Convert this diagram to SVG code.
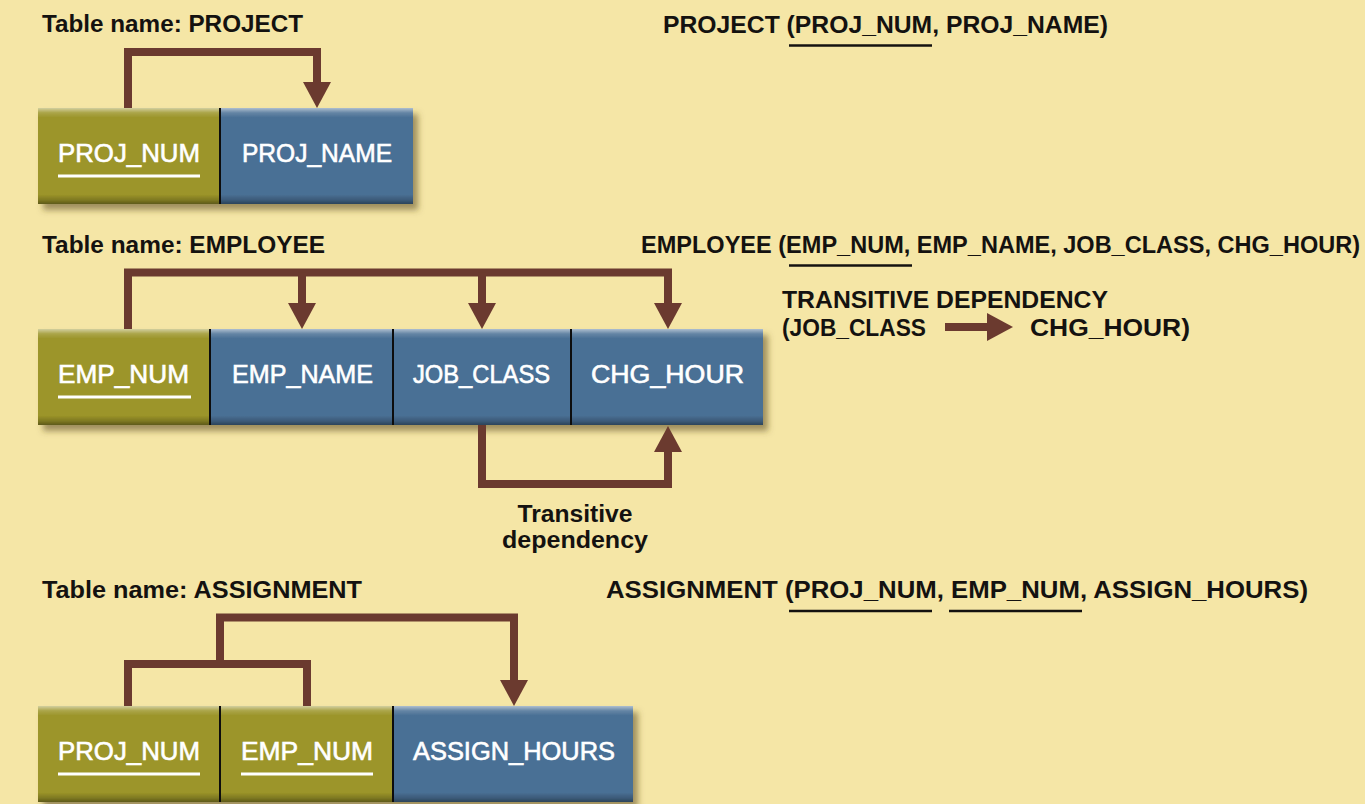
<svg xmlns="http://www.w3.org/2000/svg" width="1365" height="804" viewBox="0 0 1365 804">
  <defs>
    <style>
      .hdr { font-family: "Liberation Sans", Arial, sans-serif; font-size: 23px; font-weight: bold; fill: #141210; }
      .cell { font-family: "Liberation Sans", Arial, sans-serif; font-size: 25px; fill: #ffffff; stroke: #ffffff; stroke-width: 0.6; }
      .key { fill: #9c9529; }
      .attr { fill: #4a7095; }
      .div { stroke: #111111; stroke-width: 2; }
      .ul { stroke: #ffffff; stroke-width: 3; }
      .bul { stroke: #141210; stroke-width: 2.5; }
      .conn { fill: none; stroke: #6b3a2f; stroke-width: 8; stroke-linejoin: miter; stroke-linecap: butt; }
      .conn-head { fill: none; stroke: #6b3a2f; stroke-width: 8; marker-end: url(#head); }
    </style>
    <marker id="head" viewBox="0 0 26 28" refX="1" refY="14" markerWidth="26" markerHeight="28" markerUnits="userSpaceOnUse" orient="auto">
      <path d="M0,0 L26,14 L0,28 z" fill="#6b3a2f"/>
    </marker>
    <linearGradient id="bevel" x1="0" y1="0" x2="0" y2="1">
      <stop offset="0" stop-color="#ffffff" stop-opacity="0.55"/>
      <stop offset="0.05" stop-color="#ffffff" stop-opacity="0.15"/>
      <stop offset="0.1" stop-color="#ffffff" stop-opacity="0"/>
      <stop offset="0.9" stop-color="#000000" stop-opacity="0"/>
      <stop offset="0.96" stop-color="#000000" stop-opacity="0.2"/>
      <stop offset="1" stop-color="#000000" stop-opacity="0.4"/>
    </linearGradient>
    <filter id="shadow" x="-5%" y="-10%" width="115%" height="130%">
      <feDropShadow dx="5" dy="6" stdDeviation="3" flood-color="#5a4a20" flood-opacity="0.55"/>
    </filter>
  </defs>

  <rect width="1365" height="804" fill="#f5e6a6"/>

  <!-- Headings -->
  <g id="headings">
    <text class="hdr" x="42" y="32" textLength="261" lengthAdjust="spacingAndGlyphs">Table name: PROJECT</text>
    <text class="hdr" x="42" y="253" textLength="283" lengthAdjust="spacingAndGlyphs">Table name: EMPLOYEE</text>
    <text class="hdr" x="42" y="598" textLength="320" lengthAdjust="spacingAndGlyphs">Table name: ASSIGNMENT</text>
  </g>

  <!-- Relational schemas -->
  <g id="schema-project">
    <text class="hdr" x="663" y="33" textLength="445" lengthAdjust="spacingAndGlyphs">PROJECT (PROJ_NUM, PROJ_NAME)</text>
    <line class="bul" x1="789" y1="45.5" x2="932" y2="45.5"/>
  </g>
  <g id="schema-employee">
    <text class="hdr" x="641" y="253" textLength="719" lengthAdjust="spacingAndGlyphs">EMPLOYEE (EMP_NUM, EMP_NAME, JOB_CLASS, CHG_HOUR)</text>
    <line class="bul" x1="789" y1="265.5" x2="912" y2="265.5"/>
  </g>
  <g id="transitive-note">
    <text class="hdr" x="782" y="308" textLength="326" lengthAdjust="spacingAndGlyphs">TRANSITIVE DEPENDENCY</text>
    <text class="hdr" x="782" y="336" textLength="144" lengthAdjust="spacingAndGlyphs">(JOB_CLASS</text>
    <text class="hdr" x="1030" y="336" textLength="160" lengthAdjust="spacingAndGlyphs">CHG_HOUR)</text>
  </g>
  <g id="schema-assignment">
    <text class="hdr" x="606" y="598" textLength="702" lengthAdjust="spacingAndGlyphs">ASSIGNMENT (PROJ_NUM, EMP_NUM, ASSIGN_HOURS)</text>
    <line class="bul" x1="789" y1="611" x2="932" y2="611"/>
    <line class="bul" x1="949" y1="611" x2="1082" y2="611"/>
  </g>

  <!-- PROJECT table -->
  <g id="table-project" filter="url(#shadow)">
    <rect class="key" x="38" y="108" width="182" height="96"/>
    <rect class="attr" x="220" y="108" width="193" height="96"/>
    <rect x="38" y="108" width="375" height="96" fill="url(#bevel)"/>
    <line class="div" x1="220" y1="108" x2="220" y2="204"/>
  </g>
  <g id="project-cells">
    <text class="cell" x="58" y="162" textLength="142" lengthAdjust="spacingAndGlyphs">PROJ_NUM</text>
    <line class="ul" x1="58" y1="176" x2="200" y2="176"/>
    <text class="cell" x="242" y="162" textLength="150" lengthAdjust="spacingAndGlyphs">PROJ_NAME</text>
  </g>

  <!-- EMPLOYEE table -->
  <g id="table-employee" filter="url(#shadow)">
    <rect class="key" x="38" y="329" width="172" height="96"/>
    <rect class="attr" x="210" y="329" width="553" height="96"/>
    <rect x="38" y="329" width="725" height="96" fill="url(#bevel)"/>
    <line class="div" x1="210" y1="329" x2="210" y2="425"/>
    <line class="div" x1="393" y1="329" x2="393" y2="425"/>
    <line class="div" x1="571" y1="329" x2="571" y2="425"/>
  </g>
  <g id="employee-cells">
    <text class="cell" x="58" y="383" textLength="131" lengthAdjust="spacingAndGlyphs">EMP_NUM</text>
    <line class="ul" x1="58" y1="397" x2="191" y2="397"/>
    <text class="cell" x="232" y="383" textLength="141" lengthAdjust="spacingAndGlyphs">EMP_NAME</text>
    <text class="cell" x="413" y="383" textLength="137" lengthAdjust="spacingAndGlyphs">JOB_CLASS</text>
    <text class="cell" x="591" y="383" textLength="153" lengthAdjust="spacingAndGlyphs">CHG_HOUR</text>
  </g>
  <g id="transitive-label">
    <text class="hdr" x="575" y="522" text-anchor="middle" textLength="115" lengthAdjust="spacingAndGlyphs">Transitive</text>
    <text class="hdr" x="575" y="548" text-anchor="middle" textLength="146" lengthAdjust="spacingAndGlyphs">dependency</text>
  </g>

  <!-- ASSIGNMENT table -->
  <g id="table-assignment" filter="url(#shadow)">
    <rect class="key" x="38" y="706" width="355" height="96"/>
    <rect class="attr" x="393" y="706" width="240" height="96"/>
    <rect x="38" y="706" width="595" height="96" fill="url(#bevel)"/>
    <line class="div" x1="220" y1="706" x2="220" y2="802"/>
    <line class="div" x1="393" y1="706" x2="393" y2="802"/>
  </g>
  <g id="assignment-cells">
    <text class="cell" x="58" y="760" textLength="142" lengthAdjust="spacingAndGlyphs">PROJ_NUM</text>
    <line class="ul" x1="58" y1="774" x2="200" y2="774"/>
    <text class="cell" x="241" y="760" textLength="132" lengthAdjust="spacingAndGlyphs">EMP_NUM</text>
    <line class="ul" x1="241" y1="774" x2="373" y2="774"/>
    <text class="cell" x="413" y="760" textLength="202" lengthAdjust="spacingAndGlyphs">ASSIGN_HOURS</text>
  </g>

  <!-- Connectors -->
  <g id="connectors">
    <path class="conn-head" d="M128,108 V52 H317 V83"/>
    <path class="conn-head" d="M128,329 V272.5 H668 V304"/>
    <path class="conn-head" d="M302,272.5 V304"/>
    <path class="conn-head" d="M482,272.5 V304"/>
    <path class="conn-head" d="M482,425 V484 H668 V451"/>
    <path class="conn-head" d="M945,327 H988"/>
    <path class="conn" d="M128,706 V664 H307 V706"/>
    <path class="conn-head" d="M220,664 V617.5 H514 V681"/>
  </g>
</svg>
